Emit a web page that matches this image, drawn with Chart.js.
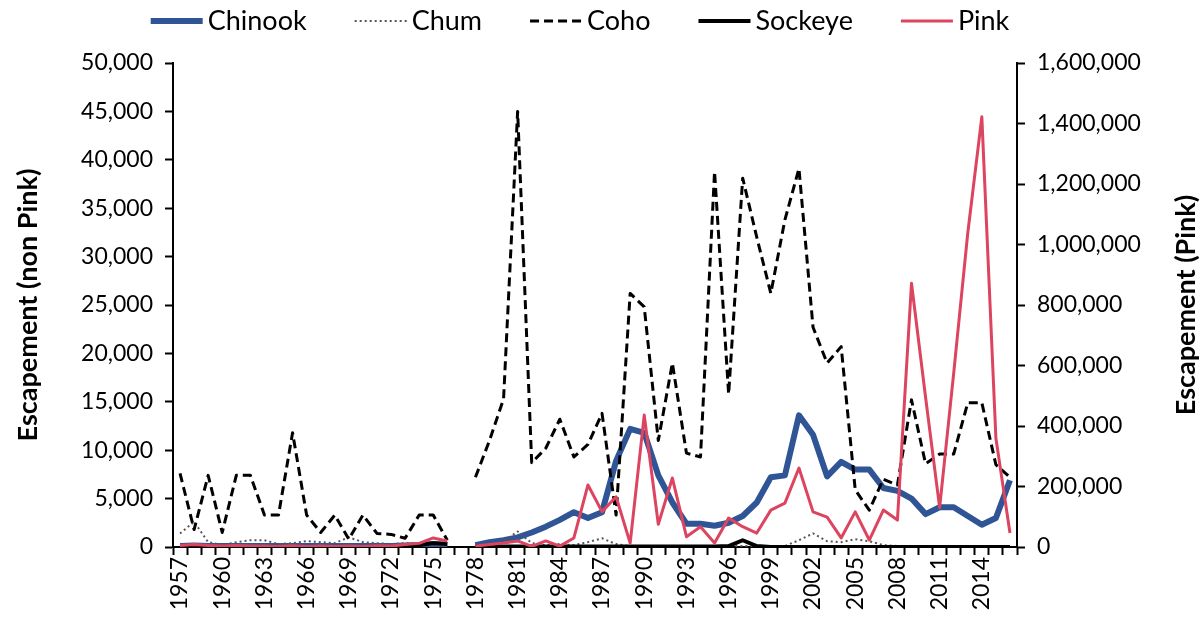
<!DOCTYPE html>
<html>
<head>
<meta charset="utf-8">
<title>Escapement</title>
<script src="https://cdn.jsdelivr.net/npm/chart.js@4.4.1/dist/chart.umd.min.js"></script>
<style>
  html, body { margin: 0; padding: 0; background: #fff; }
  #wrap { width: 1204px; height: 631px; }
</style>
</head>
<body>
<div id="wrap"><canvas id="escChart" width="1204" height="631"></canvas></div>
<script>
// survey years, 1977 has no counts
let years = [1957, 1958, 1959, 1960, 1961, 1962, 1963, 1964, 1965, 1966,
             1967, 1968, 1969, 1970, 1971, 1972, 1973, 1974, 1975, 1976,
             1977, 1978, 1979, 1980, 1981, 1982, 1983, 1984, 1985, 1986,
             1987, 1988, 1989, 1990, 1991, 1992, 1993, 1994, 1995, 1996,
             1997, 1998, 1999, 2000, 2001, 2002, 2003, 2004, 2005, 2006,
             2007, 2008, 2009, 2010, 2011, 2012, 2013, 2014, 2015, 2016];

// years that get a printed label under the axis
let labelYears = [1957, 1960, 1963, 1966, 1969, 1972, 1975, 1978, 1981, 1984,
                  1987, 1990, 1993, 1996, 1999, 2002, 2005, 2008, 2011, 2014];

let chinook = [100, 150, 100, 100, 100, 100, 100, 100, 100, 100,
               100, 100, 100, 100, 100, 100, 150, 200, 300, 200,
               null, 200, 500, 700, 1000, 1500, 2100, 2800, 3600, 3000,
               3600, 8900, 12200, 11800, 7400, 4600, 2400, 2400, 2200, 2500,
               3200, 4600, 7200, 7400, 13600, 11600, 7300, 8800, 8000, 8000,
               6100, 5800, 5000, 3400, 4100, 4100, 3200, 2300, 3000, 6900];

let chum = [1400, 2600, 500, 200, 500, 700, 700, 300, 400, 600,
            500, 400, 1000, 500, 400, 300, 400, 300, 200, 100,
            null, 100, 200, 600, 1600, 400, 200, 300, 200, 500,
            900, 300, 100, 100, 100, 100, 100, 100, 100, 100,
            100, 100, 100, 100, 700, 1400, 600, 500, 800, 600,
            200, 100, 100, 100, 100, 100, 100, 100, 100, 100];

let coho = [7600, 1800, 7400, 1500, 7400, 7400, 3300, 3300, 11800, 3300,
            1500, 3300, 800, 3300, 1400, 1300, 900, 3300, 3300, 700,
            null, 7200, 11000, 15300, 45000, 8700, 10200, 13200, 9300, 10600,
            13800, 3300, 26200, 24800, 11000, 19000, 9700, 9300, 38800, 15800,
            38100, 32000, 26200, 33800, 39100, 22700, 19000, 20700, 5900, 3800,
            7000, 6400, 15200, 8600, 9600, 9600, 14900, 14900, 8500, 7200];

let sockeye = [0, 0, 0, 0, 0, 0, 0, 0, 0, 0,
               0, 0, 0, 0, 0, 0, 50, 200, 400, 300,
               null, 50, 50, 50, 50, 50, 50, 50, 50, 50,
               50, 50, 50, 50, 50, 50, 50, 50, 50, 100,
               700, 100, 0, 0, 0, 0, 0, 0, 0, 0,
               0, 0, 0, 0, 0, 0, 0, 0, 0, 0];

// pink is on the right-hand axis
let pink = [5000, 8000, 5000, 3000, 5000, 3000, 3000, 2000, 4000, 2000,
            3000, 2000, 3000, 2000, 4000, 3000, 8000, 12000, 30000, 20000,
            null, 3000, 8000, 13000, 20000, 2000, 20000, 3000, 30000, 205000,
            117000, 166000, 13000, 436000, 75000, 228000, 34000, 67000, 13000, 96000,
            67000, 46000, 122000, 145000, 261000, 116000, 99000, 30000, 116000, 23000,
            122000, 89000, 872000, 495000, 130000, 575000, 1038000, 1422000, 360000, 46000];

const fontFamily = 'Lato, "Liberation Sans", Arial, sans-serif';

// right axis title reads bottom-to-top like the left one
const rightTitle = {
    id: 'rightTitle',
    afterDraw(chart) {
        let s = chart.scales.y1;
        let c = chart.ctx;
        c.save();
        c.translate(s.right - 18, (s.top + s.bottom) / 2);
        c.rotate(-Math.PI / 2);
        c.font = 'bold 27px ' + fontFamily;
        c.fillStyle = '#000';
        c.textAlign = 'center';
        c.textBaseline = 'middle';
        c.fillText('Escapement (Pink)', 0, 0);
        c.restore();
    }
};

// legend row across the top, line samples keep each dataset's dash
const lineLegend = {
    id: 'lineLegend',
    afterDraw(chart) {
        let c = chart.ctx;
        let lineLen = 52, textGap = 5, itemGap = 48, midY = 21;
        c.save();
        c.font = '27px ' + fontFamily;
        c.textBaseline = 'middle';
        c.textAlign = 'left';
        let sets = chart.data.datasets;
        let total = 0;
        sets.forEach((ds, i) => {
            total += lineLen + textGap + c.measureText(ds.label).width;
            if (i < sets.length - 1) total += itemGap;
        });
        let x = 580 - total / 2;
        sets.forEach((ds) => {
            c.beginPath();
            c.setLineDash(ds.borderDash || []);
            c.lineWidth = ds.borderWidth;
            c.strokeStyle = ds.borderColor;
            c.moveTo(x, midY);
            c.lineTo(x + lineLen, midY);
            c.stroke();
            c.setLineDash([]);
            x += lineLen + textGap;
            c.fillStyle = '#000';
            c.fillText(ds.label, x, midY);
            x += c.measureText(ds.label).width + itemGap;
        });
        c.restore();
    }
};

let axisFont = { family: fontFamily, size: 23 };

let ctx = document.getElementById('escChart');
let myChart = new Chart(ctx, {
    type: 'line',
    data: {
        labels: years,
        datasets: [{
            label: 'Chinook',
            data: chinook,
            borderColor: '#2F5597',
            borderWidth: 6,
            order: 4,
            yAxisID: 'y'
        },
        {
            label: 'Chum',
            data: chum,
            borderColor: '#555555',
            borderWidth: 2,
            borderDash: [2, 3],
            order: 3,
            yAxisID: 'y'
        },
        {
            label: 'Coho',
            data: coho,
            borderColor: '#000000',
            borderWidth: 3,
            borderDash: [9, 5],
            order: 2,
            yAxisID: 'y'
        },
        {
            label: 'Sockeye',
            data: sockeye,
            borderColor: '#000000',
            borderWidth: 4,
            order: 1,
            yAxisID: 'y'
        },
        {
            label: 'Pink',
            data: pink,
            borderColor: '#DC4460',
            borderWidth: 3,
            order: 0,
            yAxisID: 'y1'
        }]
    },
    options: {
        responsive: false,
        devicePixelRatio: 1,
        animation: false,
        spanGaps: false,
        elements: {
            point: { radius: 0, hoverRadius: 0 },
            line: { tension: 0, fill: false, borderCapStyle: 'butt', borderJoinStyle: 'round' }
        },
        layout: { padding: { top: 63, left: 0, right: 0, bottom: 0 } },
        plugins: {
            tooltip: { enabled: false },
            legend: { display: false }
        },
        scales: {
            x: {
                offset: true,
                grid: {
                    offset: true,
                    drawOnChartArea: false,
                    drawTicks: true,
                    tickLength: 8,
                    tickWidth: 2,
                    tickColor: '#000'
                },
                border: { color: '#000', width: 2 },
                ticks: {
                    autoSkip: false,
                    maxRotation: 90,
                    minRotation: 90,
                    padding: 2,
                    color: '#000',
                    font: axisFont,
                    callback: function (val, idx) {
                        let y = years[idx];
                        return labelYears.includes(y) ? String(y) : '';
                    }
                },
                afterFit: (s) => { s.height = 84; }
            },
            y: {
                position: 'left',
                min: 0,
                max: 50000,
                grid: {
                    drawOnChartArea: false,
                    tickLength: 8,
                    tickWidth: 2,
                    tickColor: '#000'
                },
                border: { color: '#000', width: 2 },
                ticks: {
                    stepSize: 5000,
                    padding: 12,
                    color: '#000',
                    font: axisFont,
                    callback: (v) => v.toLocaleString('en-US')
                },
                title: {
                    display: true,
                    text: 'Escapement (non Pink)',
                    color: '#000',
                    font: { family: fontFamily, size: 27, weight: 'bold' },
                    padding: { top: 12, bottom: 0 }
                },
                afterFit: (s) => { s.width = 173; }
            },
            y1: {
                position: 'right',
                min: 0,
                max: 1600000,
                grid: {
                    drawOnChartArea: false,
                    tickLength: 8,
                    tickWidth: 2,
                    tickColor: '#000'
                },
                border: { color: '#000', width: 2 },
                ticks: {
                    stepSize: 200000,
                    padding: 12,
                    color: '#000',
                    font: axisFont,
                    callback: (v) => v.toLocaleString('en-US')
                },
                afterFit: (s) => { s.width = 187; }
            }
        }
    },
    plugins: [rightTitle, lineLegend]
});
</script>
</body>
</html>
